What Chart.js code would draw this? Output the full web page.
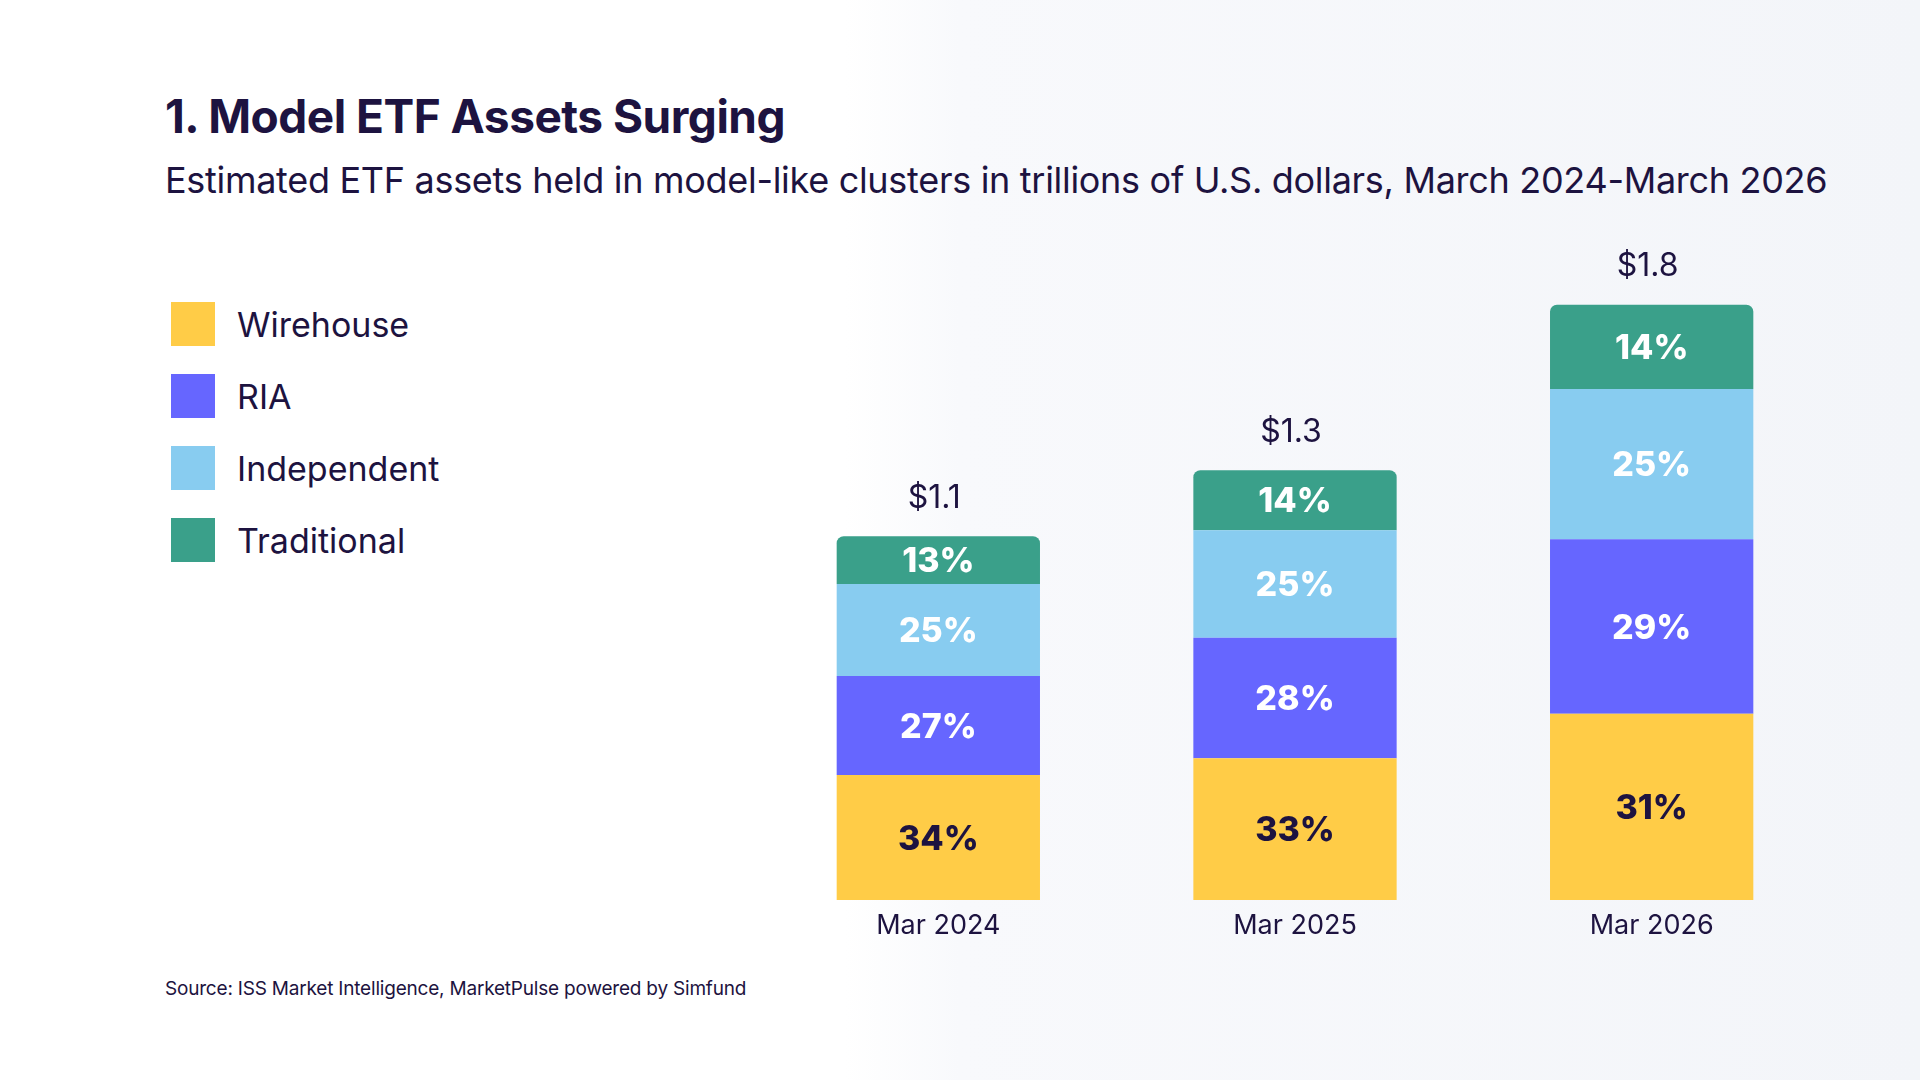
<!DOCTYPE html>
<html>
<head>
<meta charset="utf-8">
<script src="https://cdn.jsdelivr.net/npm/chart.js@4"></script>
<style>
  body { margin: 0; width: 1920px; height: 1080px; overflow: hidden; font-family: Inter, "Noto Sans", sans-serif; color: #1d1340;
         background: linear-gradient(90deg, #ffffff 0%, #ffffff 44%, #f8f9fc 50%, #f3f5f9 100%); position: relative; }
  h1 { position: absolute; left: 165px; top: 88px; margin: 0; font-size: 46px; font-weight: 700; letter-spacing: -0.5px; }
  .sub { position: absolute; left: 165px; top: 158px; font-size: 36px; font-weight: 400; letter-spacing: -0.3px; }
  .legend { position: absolute; left: 171px; top: 288px; }
  .item { display: flex; align-items: center; height: 72px; font-size: 34px; }
  .sw { width: 44px; height: 44px; margin-right: 22px; }
  .src { position: absolute; left: 165px; top: 977px; font-size: 19px; letter-spacing: -0.2px; }
  #wrap { position: absolute; left: 760px; top: 200px; width: 1070px; height: 760px; }
</style>
</head>
<body>
<h1>1. Model ETF Assets Surging</h1>
<div class="sub">Estimated ETF assets held in model-like clusters in trillions of U.S. dollars, March 2024-March 2026</div>
<div class="legend" id="legend"></div>
<div class="src">Source: ISS Market Intelligence, MarketPulse powered by Simfund</div>
<div id="wrap"><canvas id="c"></canvas></div>
<script>
const categories = ['Mar 2024', 'Mar 2025', 'Mar 2026'];
const totals = [1.1, 1.3, 1.8];
const totalLabels = ['$1.1', '$1.3', '$1.8'];
const wirehouse = [34, 33, 31];
const ria = [27, 28, 29];
const independent = [25, 25, 25];
const traditional = [13, 14, 14];

const series = [
  { name: 'Wirehouse', pct: wirehouse, color: '#ffcc47', text: '#1d1340' },
  { name: 'RIA', pct: ria, color: '#6666ff', text: '#ffffff' },
  { name: 'Independent', pct: independent, color: '#88ccf0', text: '#ffffff' },
  { name: 'Traditional', pct: traditional, color: '#3aa08a', text: '#ffffff' }
];

const legend = document.getElementById('legend');
series.forEach(s => {
  const d = document.createElement('div');
  d.className = 'item';
  d.innerHTML = '<span class="sw" style="background:' + s.color + '"></span>' + s.name;
  legend.appendChild(d);
});

// segment value = total * share, scaled so the stack reaches the total
const datasets = series.map((s, i) => ({
  label: s.name,
  data: s.pct.map((p, j) => {
    const sum = wirehouse[j] + ria[j] + independent[j] + traditional[j];
    return totals[j] * p / sum;
  }),
  backgroundColor: s.color,
  borderWidth: 0,
  borderSkipped: false,
  borderRadius: i === series.length - 1 ? { topLeft: 7, topRight: 7, bottomLeft: 0, bottomRight: 0 } : 0,
  barPercentage: 0.57,
  categoryPercentage: 1
}));

const labelsPlugin = {
  id: 'labels',
  afterDatasetsDraw(chart) {
    const ctx = chart.ctx;
    ctx.save();
    ctx.textAlign = 'center';
    ctx.textBaseline = 'middle';
    chart.data.datasets.forEach((ds, i) => {
      chart.getDatasetMeta(i).data.forEach((bar, j) => {
        ctx.fillStyle = series[i].text;
        ctx.font = '800 34px Inter, sans-serif';
        ctx.fillText(series[i].pct[j] + '%', bar.x, (bar.y + bar.base) / 2 + 2);
      });
    });
    const x = chart.scales.x, y = chart.scales.y;
    categories.forEach((c, j) => {
      const px = x.getPixelForValue(j);
      ctx.fillStyle = '#1d1340';
      ctx.font = '400 32px Inter, sans-serif';
      ctx.fillText(totalLabels[j], px - 4, y.getPixelForValue(totals[j]) - 38);
      ctx.font = '400 27px Inter, sans-serif';
      ctx.fillText(c, px, y.bottom + 26);
    });
    ctx.restore();
  }
};

new Chart(document.getElementById('c'), {
  type: 'bar',
  data: { labels: categories, datasets: datasets },
  options: {
    responsive: true,
    maintainAspectRatio: false,
    animation: false,
    layout: { padding: { top: 0, bottom: 60, left: 0, right: 0 } },
    plugins: { legend: { display: false }, tooltip: { enabled: false } },
    scales: {
      x: { stacked: true, display: false },
      y: { stacked: true, display: false, min: 0, max: 2.117 }
    }
  },
  plugins: [labelsPlugin]
});
</script>
</body>
</html>
